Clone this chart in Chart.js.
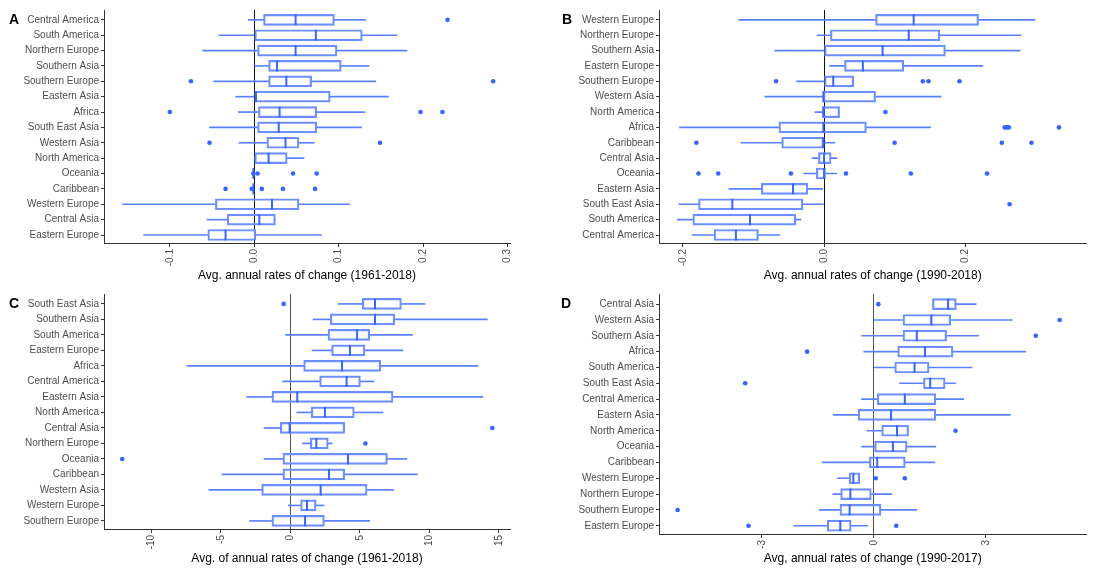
<!DOCTYPE html>
<html>
<head>
<meta charset="utf-8">
<script src="https://cdn.jsdelivr.net/npm/chart.js@4"></script>
<style>
  body { margin: 0; background: #fff; }
  #wrap { position: relative; width: 1094px; height: 569px; font-family: "Liberation Sans", Arial, sans-serif; }
  canvas { position: absolute; }
  .tag { position: absolute; font-weight: bold; font-size: 14px; color: #000; }
</style>
</head>
<body>
<div id="wrap">
  <canvas id="panelA" width="547" height="285" style="left:0;top:0"></canvas>
  <canvas id="panelB" width="547" height="285" style="left:547px;top:0"></canvas>
  <canvas id="panelC" width="547" height="284" style="left:0;top:285px"></canvas>
  <canvas id="panelD" width="547" height="284" style="left:547px;top:285px"></canvas>
  <div class="tag" style="left:9px;top:11px">A</div>
  <div class="tag" style="left:562px;top:11px">B</div>
  <div class="tag" style="left:9px;top:295px">C</div>
  <div class="tag" style="left:561px;top:295px">D</div>
</div>
<script>
// Panel A (1961-2018)
const aCats = ['Central America', 'South America', 'Northern Europe', 'Southern Asia', 'Southern Europe', 'Eastern Asia', 'Africa', 'South East Asia', 'Western Asia', 'North America', 'Oceania', 'Caribbean', 'Western Europe', 'Central Asia', 'Eastern Europe'];
const aLow = [-0.007, -0.042, -0.061, 0.000, -0.048, -0.022, -0.019, -0.053, -0.018, 0.000, -0.001, -0.001, -0.156, -0.056, -0.131];
const aQ1 = [0.011, 0.000, 0.004, 0.017, 0.017, 0.000, 0.005, 0.004, 0.015, 0.000, -0.001, -0.001, -0.046, -0.032, -0.055];
const aMed = [0.049, 0.073, 0.049, 0.027, 0.038, 0.002, 0.030, 0.029, 0.037, 0.017, -0.001, -0.001, 0.021, 0.006, -0.034];
const aQ3 = [0.095, 0.128, 0.098, 0.103, 0.068, 0.090, 0.074, 0.074, 0.053, 0.039, -0.001, -0.001, 0.053, 0.025, 0.002];
const aHigh = [0.132, 0.169, 0.181, 0.136, 0.144, 0.159, 0.131, 0.127, 0.071, 0.059, -0.001, -0.001, 0.113, 0.025, 0.080];
const aOut = [[0.229], [], [], [], [-0.075, 0.283], [], [-0.100, 0.197, 0.223], [], [-0.053, 0.149], [], [-0.001, 0.004, 0.046, 0.074], [-0.034, -0.003, 0.009, 0.034, 0.072], [], [], []];

// Panel B (1990-2018)
const bCats = ['Western Europe', 'Northern Europe', 'Southern Asia', 'Eastern Europe', 'Southern Europe', 'Western Asia', 'North America', 'Africa', 'Caribbean', 'Central Asia', 'Oceania', 'Eastern Asia', 'South East Asia', 'South America', 'Central America'];
const bLow = [-0.121, -0.010, -0.070, 0.008, -0.039, -0.084, -0.013, -0.205, -0.118, -0.017, -0.029, -0.135, -0.206, -0.208, -0.187];
const bQ1 = [0.073, 0.009, 0.000, 0.029, 0.000, -0.001, -0.002, -0.064, -0.060, -0.008, -0.011, -0.089, -0.178, -0.186, -0.156];
const bMed = [0.127, 0.120, 0.083, 0.055, 0.013, -0.001, -0.001, -0.001, -0.001, 0.000, 0.000, -0.044, -0.130, -0.105, -0.125];
const bQ3 = [0.219, 0.164, 0.172, 0.113, 0.042, 0.073, 0.022, 0.060, 0.000, 0.010, 0.002, -0.023, -0.030, -0.040, -0.093];
const bHigh = [0.299, 0.279, 0.278, 0.225, 0.042, 0.166, 0.022, 0.151, 0.015, 0.018, 0.018, -0.002, -0.001, -0.033, -0.063];
const bOut = [[], [], [], [], [-0.068, 0.140, 0.148, 0.192], [], [0.087], [0.256, 0.259, 0.262, 0.333], [-0.181, 0.100, 0.252, 0.294], [], [-0.178, -0.150, -0.047, 0.031, 0.123, 0.231], [], [0.263], [], []];

// Panel C (1961-2018)
const cCats = ['South East Asia', 'Southern Asia', 'South America', 'Eastern Europe', 'Africa', 'Central America', 'Eastern Asia', 'North America', 'Central Asia', 'Northern Europe', 'Oceania', 'Caribbean', 'Western Asia', 'Western Europe', 'Southern Europe'];
const cLow = [3.45, 1.63, -0.34, 1.56, -7.43, -0.55, -3.14, 0.46, -1.89, 0.86, -1.89, -4.92, -5.85, -0.14, -2.93];
const cQ1 = [5.18, 2.88, 2.71, 2.97, 0.96, 2.11, -1.32, 1.51, -0.72, 1.44, -0.53, -0.53, -2.06, 0.74, -1.32];
const cMed = [6.09, 6.09, 4.80, 4.29, 3.72, 4.05, 0.50, 2.49, -0.05, 1.87, 4.15, 2.78, 2.18, 1.20, 1.06];
const cQ3 = [7.99, 7.51, 5.71, 5.37, 6.50, 5.04, 7.39, 4.60, 3.91, 2.73, 6.98, 3.91, 5.52, 1.85, 2.45];
const cHigh = [9.69, 14.17, 8.78, 8.11, 13.48, 6.02, 13.84, 6.67, 3.91, 3.02, 8.39, 9.14, 7.43, 2.42, 5.71];
const cOut = [[-0.48], [], [], [], [], [], [], [], [14.53], [5.40], [-12.09], [], [], [], []];

// Panel D (1990-2017)
const dCats = ['Central Asia', 'Western Asia', 'Southern Asia', 'Africa', 'South America', 'South East Asia', 'Central America', 'Eastern Asia', 'North America', 'Oceania', 'Caribbean', 'Western Europe', 'Northern Europe', 'Southern Europe', 'Eastern Europe'];
const dLow = [1.57, 0.00, -0.33, -0.27, 0.00, 0.69, -0.33, -1.09, -0.19, -0.33, -1.39, -0.98, -1.10, -1.46, -2.15];
const dQ1 = [1.57, 0.78, 0.78, 0.64, 0.56, 1.33, 0.09, -0.42, 0.21, 0.02, -0.12, -0.66, -0.89, -0.91, -1.25];
const dMed = [1.99, 1.54, 1.15, 1.37, 1.09, 1.51, 0.83, 0.46, 0.62, 0.51, 0.09, -0.55, -0.63, -0.65, -0.90];
const dQ3 = [2.21, 2.06, 1.95, 2.12, 1.48, 1.91, 1.66, 1.66, 0.93, 0.89, 0.84, -0.38, -0.07, 0.19, -0.61];
const dHigh = [2.74, 3.71, 2.81, 4.07, 2.63, 2.19, 2.41, 3.66, 0.93, 1.66, 1.64, -0.38, 0.48, 1.15, -0.17];
const dOut = [[0.12], [4.98], [4.34], [-1.79], [], [-3.45], [], [], [2.19], [], [], [0.05, 0.83], [], [-5.26], [-3.36, 0.60]];

const whiskerColor = '#5a80ff';
const boxColor = '#6d8fff';
const medianColor = '#3a66ff';
const pointColor = '#3366ff';
const labelColor = '#4d4d4d';

function drawPanel(id, p) {
    const rows = p.cats.map((c, i) => i);
    const outliers = [];
    p.out.forEach((vals, i) => vals.forEach(v => outliers.push({ x: v, y: i })));

    new Chart(document.getElementById(id), {
        type: 'bar',
        data: {
            datasets: [
                {
                    type: 'scatter', order: 0,
                    data: rows.map(i => ({ x: p.med[i], y: i })),
                    pointStyle: 'line', rotation: 90, pointRadius: 5.5,
                    borderColor: medianColor, borderWidth: 2
                },
                {
                    type: 'scatter', order: 1,
                    data: outliers,
                    pointRadius: 2.3, backgroundColor: pointColor, borderWidth: 0
                },
                {
                    type: 'bar', order: 2, grouped: false,
                    data: rows.map(i => ({ y: i, x: [p.q1[i], p.q3[i]] })),
                    barThickness: 11, backgroundColor: 'rgba(0,0,0,0)',
                    borderColor: boxColor, borderWidth: 1.5, borderSkipped: false
                },
                {
                    type: 'bar', order: 3, grouped: false,
                    data: rows.map(i => ({ y: i, x: [p.low[i], p.q1[i]] })),
                    barThickness: 1, backgroundColor: whiskerColor, borderWidth: 0
                },
                {
                    type: 'bar', order: 3, grouped: false,
                    data: rows.map(i => ({ y: i, x: [p.q3[i], p.high[i]] })),
                    barThickness: 1, backgroundColor: whiskerColor, borderWidth: 0
                }
            ]
        },
        options: {
            indexAxis: 'y',
            responsive: false,
            animation: false,
            events: [],
            layout: { padding: { top: p.padTop, right: p.padRight, left: 0, bottom: 0 } },
            plugins: { legend: { display: false }, tooltip: { enabled: false } },
            scales: {
                x: {
                    type: 'linear', min: p.min, max: p.max, beginAtZero: false,
                    afterFit: s => { s.height = p.xHeight; },
                    border: { color: '#333', width: 1 },
                    grid: {
                        drawOnChartArea: true, tickLength: 4, tickColor: '#333', lineWidth: 1,
                        color: ctx => (ctx.tick && Math.abs(ctx.tick.value) < 1e-9) ? p.zeroColor : 'rgba(0,0,0,0)'
                    },
                    ticks: {
                        stepSize: p.step, includeBounds: false, minRotation: 90, maxRotation: 90,
                        color: labelColor, font: { size: 10, family: 'Liberation Sans' }, padding: 2,
                        callback: v => p.fmt(v)
                    },
                    title: {
                        display: true, text: p.title, color: '#000',
                        font: { size: 12, family: 'Liberation Sans' }, padding: { top: 0, bottom: p.titlePad }
                    }
                },
                y: {
                    type: 'linear', reverse: true, min: -0.64, max: 14.52, offset: false,
                    afterFit: s => { s.width = p.yWidth; },
                    border: { color: '#333', width: 1 },
                    grid: { drawOnChartArea: false, offset: false, tickLength: 3, color: '#333' },
                    ticks: {
                        stepSize: 1, includeBounds: false, autoSkip: false,
                        color: labelColor, font: { size: 10, family: 'Liberation Sans' }, padding: 2,
                        callback: v => p.cats[v]
                    }
                }
            }
        }
    });
}

drawPanel('panelA', {
    cats: aCats, low: aLow, q1: aQ1, med: aMed, q3: aQ3, high: aHigh, out: aOut,
    min: -0.178, max: 0.303, step: 0.1, fmt: v => v.toFixed(1),
    title: 'Avg. annual rates of change (1961-2018)',
    padTop: 10, padRight: 37, yWidth: 104, xHeight: 42, titlePad: 2, zeroColor: '#111'
});
drawPanel('panelB', {
    cats: bCats, low: bLow, q1: bQ1, med: bMed, q3: bQ3, high: bHigh, out: bOut,
    min: -0.234, max: 0.372, step: 0.2, fmt: v => v.toFixed(1),
    title: 'Avg. annual rates of change (1990-2018)',
    padTop: 10, padRight: 1, yWidth: 112, xHeight: 42, titlePad: 2, zeroColor: '#111'
});
drawPanel('panelC', {
    cats: cCats, low: cLow, q1: cQ1, med: cMed, q3: cQ3, high: cHigh, out: cOut,
    min: -13.4, max: 15.8, step: 5, fmt: v => String(Math.round(v)),
    title: 'Avg. of annual rates of change (1961-2018)',
    padTop: 9, padRight: 37, yWidth: 104, xHeight: 40, titlePad: 3.5, zeroColor: '#555'
});
drawPanel('panelD', {
    cats: dCats, low: dLow, q1: dQ1, med: dMed, q3: dQ3, high: dHigh, out: dOut,
    min: -5.76, max: 5.70, step: 3, fmt: v => String(Math.round(v)),
    title: 'Avg, annual rates of change (1990-2017)',
    padTop: 9, padRight: 1, yWidth: 112, xHeight: 35, titlePad: 3.5, zeroColor: '#555'
});
</script>
</body>
</html>
